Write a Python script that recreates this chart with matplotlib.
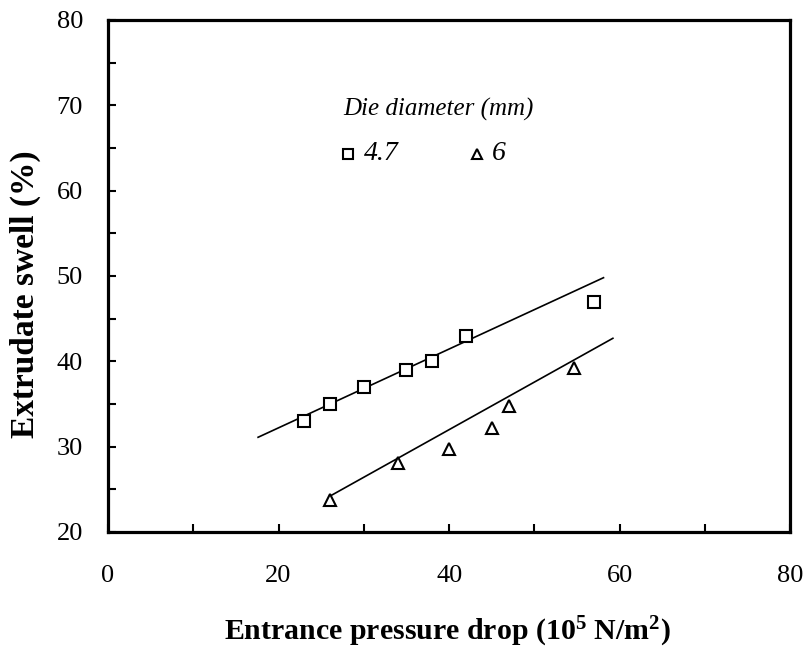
import matplotlib
matplotlib.use("Agg")
import matplotlib.pyplot as plt

plt.rcParams['font.family'] = ['Liberation Serif', 'DejaVu Serif']
plt.rcParams['mathtext.fontset'] = 'custom'
plt.rcParams['mathtext.rm'] = 'Liberation Serif'
plt.rcParams['mathtext.bf'] = 'Liberation Serif:bold'
plt.rcParams['mathtext.it'] = 'Liberation Serif:italic'

# Die diameter 4.7 mm
x_47 = [23, 26, 30, 35, 38, 42, 57]
y_47 = [33, 35, 37, 39, 40, 43, 47]
fit_x_47 = [17.6, 58.1]
fit_y_47 = [31.1, 49.8]

# Die diameter 6 mm
x_6 = [26, 34, 40, 45, 47, 54.6]
y_6 = [23.8, 28.1, 29.7, 32.2, 34.8, 39.2]
fit_x_6 = [26.2, 59.2]
fit_y_6 = [24.3, 42.7]

x_ticks = [0, 20, 40, 60, 80]
y_ticks = [20, 30, 40, 50, 60, 70, 80]

fig = plt.figure(figsize=(8.07, 6.51), dpi=100)
ax = fig.add_axes([0.1338, 0.1828, 0.8455, 0.7865])

ax.plot(fit_x_47, fit_y_47, color='black', lw=1.2)
ax.plot(fit_x_6, fit_y_6, color='black', lw=1.2)
ax.plot(x_47, y_47, ls='none', marker='s', ms=8.5, mfc='white', mec='black', mew=1.5)
ax.plot(x_6, y_6, ls='none', marker='^', ms=8.5, mfc='white', mec='black', mew=1.5)

ax.set_xlim(0, 80)
ax.set_ylim(20, 80)
ax.set_xticks(x_ticks)
ax.set_yticks(y_ticks)
ax.set_xticks([10, 30, 50, 70], minor=True)
ax.set_yticks([25, 35, 45, 55, 65, 75], minor=True)
ax.tick_params(which='both', direction='in', width=1.5, length=6)
ax.tick_params(axis='x', which='major', labelsize=19, pad=24)
ax.tick_params(axis='y', which='major', labelsize=19, pad=18)
for s in ax.spines.values():
    s.set_linewidth(2.3)

# Axis titles
fig.text(0.5545, 0.017, r'Entrance pressure drop (10$^{\mathbf{5}}$ N/m$^{\mathbf{2}}$)',
         fontsize=21.5, fontweight='bold', ha='center', va='baseline')
fig.text(0.031, 0.548, 'Extrudate swell (%)', fontsize=24, fontweight='bold',
         rotation=90, ha='center', va='center')

# Legend block
ax.text(27.6, 69.5, 'Die diameter (mm)', fontsize=18, style='italic', ha='left', va='center')
ax.plot([28.2], [64.3], ls='none', marker='s', ms=7, mfc='white', mec='black', mew=1.5)
ax.text(30.0, 64.3, '4.7', fontsize=20, style='italic', ha='left', va='center')
ax.plot([43.3], [64.3], ls='none', marker='^', ms=6.5, mfc='white', mec='black', mew=1.5)
ax.text(45.0, 64.3, '6', fontsize=20, style='italic', ha='left', va='center')

fig.savefig('out.png', dpi=100)
